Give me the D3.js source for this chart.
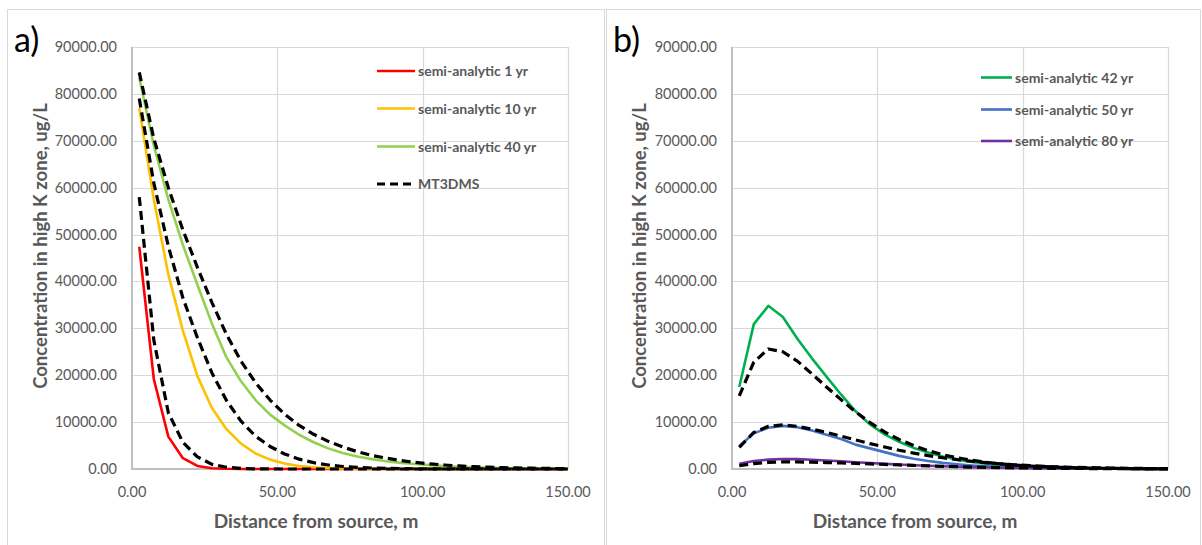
<!DOCTYPE html>
<html>
<head>
<meta charset="utf-8">
<script src="https://cdn.jsdelivr.net/npm/d3@7"></script>
<style>
  body { margin: 0; background: #fff; }
  text { font-family: Lato, "Open Sans", sans-serif; }
</style>
</head>
<body>
<div id="chart"></div>
<script>
// distance from source, m
const distance = [2.5, 7.5, 12.5, 17.5, 22.5, 27.5, 32.5, 37.5, 42.5, 47.5, 52.5, 57.5, 62.5, 67.5, 72.5,
  77.5, 82.5, 87.5, 92.5, 97.5, 102.5, 107.5, 112.5, 117.5, 122.5, 127.5, 132.5, 137.5, 142.5, 147.5, 150];

// panel a) concentrations, ug/L
const aSemi1 = [47400, 19200, 6900, 2300, 650, 170, 40, 10, 2, 0, 0, 0, 0, 0, 0, 0, 0, 0, 0, 0, 0, 0, 0, 0, 0, 0, 0, 0, 0, 0, 0];
const aSemi10 = [77000, 57500, 41500, 29500, 19800, 13000, 8500, 5400, 3300, 2000, 1150, 650, 360, 190, 100, 50, 25, 12, 6, 3, 1, 1, 0, 0, 0, 0, 0, 0, 0, 0, 0];
const aSemi40 = [83500, 69000, 57500, 47800, 39300, 31000, 23800, 18700, 14700, 11600, 9300, 7300, 5700, 4400, 3400, 2650, 2100, 1650, 1300, 1050, 820, 630, 480, 360, 270, 200, 150, 110, 80, 60, 50];
const aMt1 = [58000, 27500, 12000, 5700, 2600, 1000, 380, 130, 40, 12, 3, 1, 0, 0, 0, 0, 0, 0, 0, 0, 0, 0, 0, 0, 0, 0, 0, 0, 0, 0, 0];
const aMt10 = [79000, 61000, 47500, 36500, 28000, 20500, 14600, 10200, 7000, 4800, 3200, 2100, 1350, 850, 540, 340, 210, 130, 80, 50, 30, 20, 12, 8, 5, 3, 2, 1, 1, 0, 0];
const aMt40 = [84600, 70500, 60000, 51000, 43000, 35500, 28700, 23000, 18400, 14700, 11700, 9300, 7400, 5900, 4700, 3700, 2900, 2300, 1800, 1400, 1100, 850, 650, 500, 380, 290, 220, 170, 130, 100, 90];

// panel b) concentrations, ug/L
const bSemi42 = [17500, 30900, 34800, 32400, 27800, 23600, 19700, 15900, 12300, 9500, 7400, 5800, 4500, 3500, 2650, 2000, 1500, 1120, 830, 610, 450, 330, 240, 175, 125, 90, 65, 45, 32, 22, 18];
const bSemi50 = [4900, 7600, 8800, 9200, 8900, 8200, 7300, 6400, 5200, 4400, 3600, 2800, 2200, 1700, 1300, 1000, 760, 580, 440, 330, 250, 190, 140, 105, 78, 58, 43, 32, 24, 18, 16];
const bSemi80 = [1100, 1700, 2000, 2130, 2100, 1980, 1820, 1640, 1450, 1270, 1100, 950, 810, 690, 580, 490, 410, 340, 280, 230, 190, 155, 125, 100, 80, 65, 52, 42, 34, 27, 25];
const bMt42 = [15600, 22800, 25600, 25000, 23000, 20300, 17500, 14800, 12200, 9900, 7900, 6300, 5000, 3900, 3050, 2400, 1850, 1420, 1100, 840, 640, 490, 370, 280, 210, 160, 120, 90, 65, 50, 45];
const bMt50 = [4600, 7800, 9100, 9400, 9100, 8500, 7800, 7000, 6200, 5400, 4700, 4000, 3400, 2850, 2400, 2000, 1650, 1350, 1100, 900, 720, 580, 460, 370, 290, 230, 180, 140, 110, 85, 75];
const bMt80 = [700, 1150, 1400, 1500, 1500, 1460, 1380, 1290, 1190, 1080, 970, 860, 760, 660, 570, 490, 420, 360, 300, 250, 210, 175, 145, 120, 98, 80, 65, 52, 42, 34, 31];

// ticks
const yTicks = [0, 10000, 20000, 30000, 40000, 50000, 60000, 70000, 80000, 90000];
const xTicks = [0, 50, 100, 150];

const xTitle = "Distance from source, m";
const yTitle = "Concentration in high K zone, ug/L";

const textGrey = "#595959";
const gridGrey = "#D9D9D9";
const fmt = d3.format(".2f");

var svg = d3.select("#chart").append("svg").
attr("width", 1202).
attr("height", 545);

svg.append("rect").attr("width", 1202).attr("height", 545).attr("fill", "#fff");

function drawPanel(p) {
  var g = svg.append("g");

  // outer chart frame
  g.append("rect").
  attr("x", p.frameX + 0.5).
  attr("y", 9.5).
  attr("width", p.frameW).
  attr("height", 560).
  attr("fill", "none").
  attr("stroke", gridGrey);

  var x = d3.scaleLinear().domain([0, 150]).range([p.left, p.left + 436]);
  var y = d3.scaleLinear().domain([0, 90000]).range([469, 47]);

  // gridlines
  g.selectAll(".hgrid").data(yTicks.slice(1)).enter().append("line").
  attr("x1", x(0)).attr("x2", x(150)).
  attr("y1", d => Math.round(y(d)) + 0.5).attr("y2", d => Math.round(y(d)) + 0.5).
  attr("stroke", gridGrey).attr("stroke-width", 1.2);

  g.selectAll(".vgrid").data(xTicks.slice(1)).enter().append("line").
  attr("x1", d => Math.round(x(d)) + 0.5).attr("x2", d => Math.round(x(d)) + 0.5).
  attr("y1", y(90000)).attr("y2", y(0)).
  attr("stroke", gridGrey).attr("stroke-width", 1.2);

  // axes lines
  g.append("line").attr("x1", x(0)).attr("x2", x(0)).attr("y1", y(90000)).attr("y2", y(0) + 1).
  attr("stroke", "#BFBFBF").attr("stroke-width", 2);
  g.append("line").attr("x1", x(0) - 1).attr("x2", x(150)).attr("y1", y(0)).attr("y2", y(0)).
  attr("stroke", "#BFBFBF").attr("stroke-width", 2);

  // tick labels
  g.selectAll(".ylab").data(yTicks).enter().append("text").
  attr("x", x(0) - 15).
  attr("y", d => y(d) + 5).
  attr("text-anchor", "end").
  attr("fill", textGrey).
  style("font-size", "14.5px").
  text(d => fmt(d));

  g.selectAll(".xlab").data(xTicks).enter().append("text").
  attr("x", d => x(d)).
  attr("y", 497).
  attr("text-anchor", "middle").
  attr("fill", textGrey).
  style("font-size", "14.5px").
  text(d => fmt(d));

  // titles
  g.append("text").
  attr("x", p.frameX + 309).
  attr("y", 528).
  attr("text-anchor", "middle").
  attr("fill", textGrey).
  style("font-size", "19px").
  style("font-weight", "bold").
  text(xTitle);

  g.append("text").
  attr("transform", "translate(" + (p.frameX + 40) + ",246) rotate(-90)").
  attr("text-anchor", "middle").
  attr("fill", textGrey).
  style("font-size", "18.5px").
  style("font-weight", "bold").
  text(yTitle);

  g.append("text").
  attr("x", p.frameX + 7).
  attr("y", 52).
  attr("fill", "#000").
  style("font-size", "34px").
  text(p.label);

  var line = d3.line().
  x((d, i) => x(distance[i])).
  y(d => y(d));

  // semi-analytic curves first, MT3DMS dashed on top
  p.series.forEach(function (s) {
    g.append("path").
    datum(s.values).
    attr("fill", "none").
    attr("stroke", s.color).
    attr("stroke-width", 2.6).
    attr("stroke-linejoin", "round").
    attr("d", line);
  });
  p.dashed.forEach(function (vals) {
    g.append("path").
    datum(vals).
    attr("fill", "none").
    attr("stroke", "#000").
    attr("stroke-width", 3.2).
    attr("stroke-dasharray", "9,5").
    attr("stroke-linejoin", "round").
    attr("d", line);
  });

  // legend
  var legend = g.append("g").attr("class", "legend");
  p.legend.forEach(function (item, k) {
    var ly = p.legendY[k];
    legend.append("line").
    attr("x1", p.legendX).attr("x2", p.legendX + p.legendLen).
    attr("y1", ly).attr("y2", ly).
    attr("stroke", item.color).
    attr("stroke-width", item.dashed ? 3.2 : 2.6).
    attr("stroke-dasharray", item.dashed ? "8,5" : null);
    legend.append("text").
    attr("x", p.legendX + p.legendLen + 3).
    attr("y", ly + 5).
    attr("fill", textGrey).
    style("font-size", "14px").
    style("font-weight", "bold").
    text(item.name);
  });
}

drawPanel({
  label: "a)",
  frameX: 7,
  frameW: 597,
  left: 132,
  series: [
    {values: aSemi1, color: "#FF0000"},
    {values: aSemi10, color: "#FFC000"},
    {values: aSemi40, color: "#92D050"}
  ],
  dashed: [aMt1, aMt10, aMt40],
  legendX: 377,
  legendLen: 38,
  legendY: [71, 108.5, 146.5, 184],
  legend: [
    {name: "semi-analytic 1 yr", color: "#FF0000"},
    {name: "semi-analytic 10 yr", color: "#FFC000"},
    {name: "semi-analytic 40 yr", color: "#92D050"},
    {name: "MT3DMS", color: "#000", dashed: true}
  ]
});

drawPanel({
  label: "b)",
  frameX: 606,
  frameW: 594,
  left: 732,
  series: [
    {values: bSemi42, color: "#00B050"},
    {values: bSemi50, color: "#4472C4"},
    {values: bSemi80, color: "#7030A0"}
  ],
  dashed: [bMt42, bMt50, bMt80],
  legendX: 981,
  legendLen: 31,
  legendY: [77.5, 109.5, 141],
  legend: [
    {name: "semi-analytic 42 yr", color: "#00B050"},
    {name: "semi-analytic 50 yr", color: "#4472C4"},
    {name: "semi-analytic 80 yr", color: "#7030A0"}
  ]
});
</script>
</body>
</html>
